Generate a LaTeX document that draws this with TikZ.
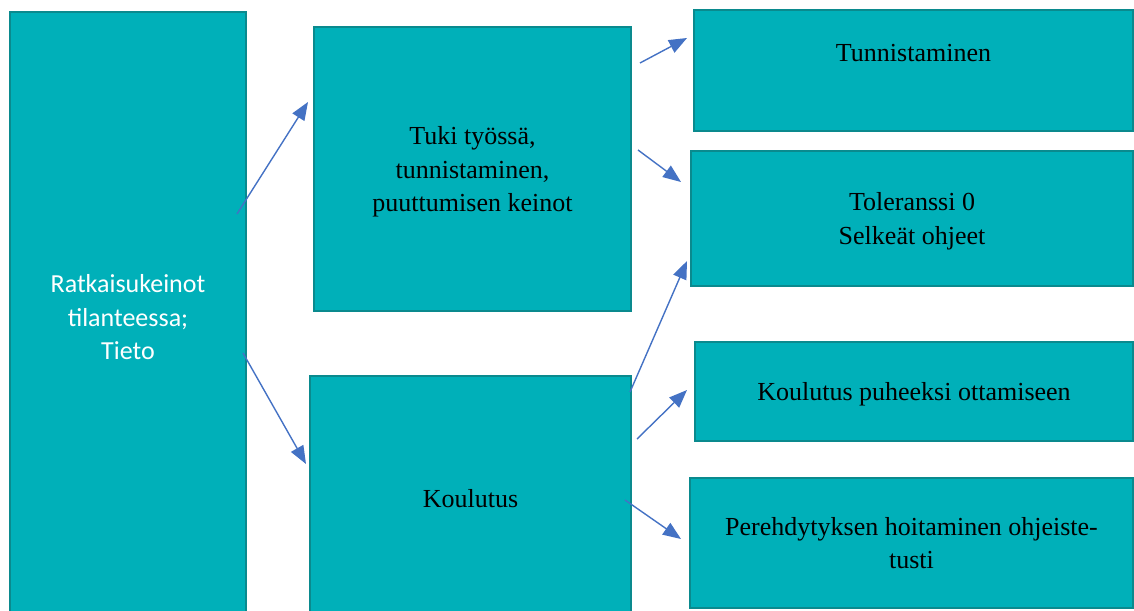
\documentclass[tikz,border=0pt]{standalone}
\usepackage{fontspec}
\setmainfont{Liberation Serif}
\newfontfamily\calfont{Carlito}
\usetikzlibrary{positioning,arrows.meta}
\definecolor{boxfill}{HTML}{00B0B9}
\definecolor{boxline}{HTML}{0A8A8E}
\definecolor{arrowblue}{HTML}{4472C4}

\begin{document}
\begin{tikzpicture}[x=0.5pt,y=-0.5pt,
      box/.style={draw=boxline,fill=boxfill,line width=1pt,inner sep=0pt,
                  align=center,text depth=-1pt,font=\fontsize{13}{16.75}\selectfont},
      arr/.style={-{Triangle[length=9pt,width=7pt]},arrowblue,line width=0.7pt}]
    \useasboundingbox (0,0) rectangle (1134,610);
    % left column
    \node[box,minimum width=118pt,minimum height=305pt,text=white,
          font=\calfont\fontsize{13}{16.75}\selectfont](rk) at (128,317)
      {Ratkaisukeinot\\tilanteessa;\\Tieto};
    % middle column
    \node[box,minimum width=158.5pt,minimum height=142pt](tuki) at (472.5,169)
      {Tuki työssä,\\tunnistaminen,\\puuttumisen keinot};
    \node[box,minimum width=160.5pt,minimum height=122pt](koul) at (470.5,498)
      {Koulutus};
    % right column
    \node[box,minimum width=219.5pt,minimum height=60.5pt,
          label={[font=\fontsize{13}{16.75}\selectfont,yshift=8.5pt]center:Tunnistaminen}](tunn) at (913.5,70.5) {};
    \node[box,minimum width=221pt,minimum height=67.5pt](tol) at (912,218.5)
      {Toleranssi 0\\Selkeät ohjeet};
    \node[box,minimum width=219pt,minimum height=49.5pt](puh) at (914,391.5)
      {Koulutus puheeksi ottamiseen};
    \node[box,minimum width=221.5pt,minimum height=65pt](pere) at (911.5,543)
      {Perehdytyksen hoitaminen ohjeiste-\\tusti};
    % arrow ends
    \coordinate (s1) at (237,214); \coordinate (e1) at (308,102);
    \coordinate (s2) at (243,353); \coordinate (e2) at (306,464);
    \coordinate (s3) at (640,63);  \coordinate (e3) at (687,38);
    \coordinate (s4) at (638,150); \coordinate (e4) at (681,182);
    \coordinate (s5) at (630,392); \coordinate (e5) at (687,261);
    \coordinate (s6) at (637,439); \coordinate (e6) at (687,390);
    \coordinate (s7) at (625,500); \coordinate (e7) at (681,539);
    \draw[arr](s1)--(e1);
    \draw[arr](s2)--(e2);
    \draw[arr](s3)--(e3);
    \draw[arr](s4)--(e4);
    \draw[arr](s5)--(e5);
    \draw[arr](s6)--(e6);
    \draw[arr](s7)--(e7);
  \end{tikzpicture}
\end{document}
